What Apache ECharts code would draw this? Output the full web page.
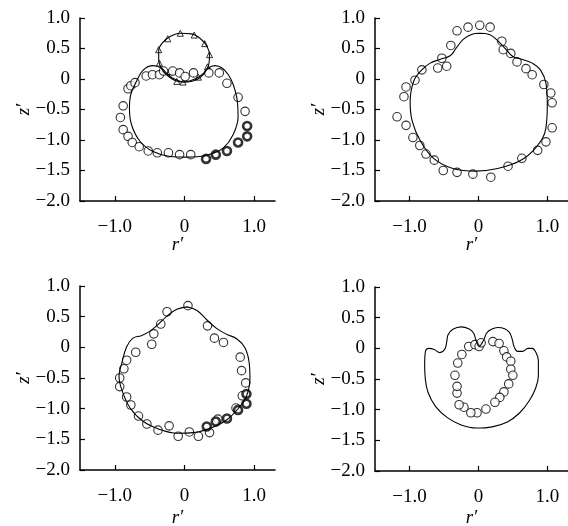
<!DOCTYPE html>
<html>
<head>
<meta charset="utf-8">
<script src="https://cdn.jsdelivr.net/npm/echarts@6/dist/echarts.min.js"></script>
<style>
  html, body { margin: 0; padding: 0; background: #fff; }
  #chart { width: 568px; height: 526px; }
</style>
</head>
<body>
<div id="chart"></div>
<script>
// tick labels
const xTicks = [-1.0, 0, 1.0];
const yTicks = [-2.0, -1.5, -1.0, -0.5, 0, 0.5, 1.0];

// panel a (top left)
const aCurve = [[0.0,-0.05],[-0.06,-0.04],[-0.18,0.02],[-0.26,0.10],[-0.33,0.18],[-0.45,0.22],[-0.59,0.15],[-0.69,-0.04],[-0.77,-0.25],[-0.79,-0.48],[-0.76,-0.75],[-0.64,-1.02],[-0.45,-1.19],[-0.21,-1.27],[0.03,-1.28],[0.22,-1.27],[0.40,-1.22],[0.56,-1.13],[0.70,-0.91],[0.77,-0.62],[0.76,-0.37],[0.70,-0.09],[0.63,0.07],[0.54,0.18],[0.44,0.22],[0.34,0.18],[0.27,0.07],[0.18,-0.01],[0.05,-0.05],[0.0,-0.05]];
const aDrop = [[0,-0.05],[-0.13,-0.03],[-0.24,0.05],[-0.33,0.17],[-0.37,0.32],[-0.37,0.47],[-0.31,0.60],[-0.20,0.70],[-0.06,0.75],[0.10,0.74],[0.23,0.66],[0.32,0.54],[0.36,0.40],[0.35,0.24],[0.28,0.10],[0.15,0.0],[0,-0.05]];
const aTriangles = [[-0.36,0.26],[-0.37,0.48],[-0.24,0.66],[-0.06,0.75],[0.14,0.72],[0.29,0.58],[0.36,0.40],[0.33,0.20],[0.20,0.03],[-0.02,-0.05],[-0.11,-0.04],[-0.21,0.12]];
const aCircles = [[-0.81,-0.16],[-0.77,-0.11],[-0.71,-0.06],[-0.55,0.05],[-0.46,0.07],[-0.36,0.07],[-0.30,0.13],[-0.17,0.13],[-0.07,0.10],[0.01,0.04],[0.13,0.10],[0.35,0.10],[0.50,0.10],[0.61,-0.07],[0.77,-0.30],[0.87,-0.53],[-0.88,-0.44],[-0.92,-0.63],[-0.88,-0.83],[-0.81,-0.94],[-0.75,-1.04],[-0.65,-1.11],[-0.52,-1.18],[-0.39,-1.21],[-0.23,-1.21],[-0.07,-1.24],[0.09,-1.24]];
const aBold = [[0.31,-1.31],[0.45,-1.24],[0.61,-1.18],[0.77,-1.04],[0.90,-0.94],[0.90,-0.77]];

// panel b (top right)
const bCurve = [[0.02,0.75],[0.16,0.73],[0.28,0.63],[0.38,0.51],[0.50,0.37],[0.64,0.32],[0.78,0.26],[0.90,0.15],[0.98,-0.07],[1.0,-0.40],[0.98,-0.80],[0.83,-1.13],[0.59,-1.35],[0.26,-1.47],[-0.03,-1.51],[-0.36,-1.47],[-0.65,-1.30],[-0.84,-1.02],[-0.96,-0.69],[-0.99,-0.38],[-0.94,-0.04],[-0.82,0.15],[-0.70,0.26],[-0.56,0.32],[-0.41,0.38],[-0.32,0.51],[-0.22,0.65],[-0.10,0.73],[0.02,0.75]];
const bCircles = [[-0.31,0.79],[-0.15,0.85],[0.02,0.88],[0.17,0.85],[-0.40,0.55],[-0.53,0.34],[-0.46,0.21],[-0.59,0.18],[-0.82,0.15],[-0.92,-0.02],[-1.05,-0.13],[-1.08,-0.29],[-1.18,-0.62],[-1.05,-0.76],[-0.95,-0.96],[-0.85,-1.09],[-0.76,-1.23],[-0.64,-1.33],[-0.51,-1.50],[-0.31,-1.53],[-0.08,-1.56],[0.18,-1.61],[0.43,-1.43],[0.63,-1.30],[0.86,-1.17],[0.98,-1.03],[1.07,-0.80],[1.07,-0.39],[1.05,-0.23],[0.95,-0.09],[0.78,0.07],[0.69,0.17],[0.56,0.28],[0.47,0.42],[0.36,0.48],[0.34,0.62]];

// panel c (bottom left)
const cCurve = [[0.04,0.66],[0.18,0.60],[0.32,0.45],[0.46,0.31],[0.61,0.21],[0.75,0.14],[0.87,-0.01],[0.93,-0.26],[0.94,-0.52],[0.89,-0.80],[0.80,-0.96],[0.61,-1.18],[0.37,-1.32],[0.13,-1.39],[-0.11,-1.40],[-0.35,-1.34],[-0.59,-1.21],[-0.78,-0.99],[-0.90,-0.69],[-0.94,-0.47],[-0.90,-0.26],[-0.83,0.01],[-0.74,0.15],[-0.62,0.19],[-0.50,0.26],[-0.38,0.37],[-0.26,0.50],[-0.11,0.62],[0.04,0.66]];
const cCircles = [[0.05,0.68],[-0.25,0.58],[-0.34,0.38],[-0.44,0.22],[-0.47,0.05],[-0.70,-0.08],[-0.83,-0.21],[-0.87,-0.35],[-0.93,-0.50],[-0.93,-0.64],[-0.83,-0.81],[-0.77,-0.94],[-0.66,-1.12],[-0.54,-1.25],[-0.38,-1.35],[-0.22,-1.28],[-0.09,-1.45],[0.07,-1.38],[0.20,-1.45],[0.36,-1.39],[0.33,0.35],[0.43,0.15],[0.56,0.08],[0.80,-0.16],[0.82,-0.38],[0.88,-0.58],[0.74,-0.99],[0.83,-0.79],[0.48,-1.17]];
const cBold = [[0.32,-1.29],[0.45,-1.21],[0.61,-1.16],[0.77,-1.02],[0.89,-0.92],[0.89,-0.76]];

// panel d (bottom right)
const dCurve = [[0.02,0.03],[0.08,0.14],[0.12,0.25],[0.19,0.31],[0.28,0.34],[0.38,0.32],[0.45,0.26],[0.49,0.15],[0.52,0.02],[0.57,-0.05],[0.64,-0.05],[0.72,0.0],[0.78,0.0],[0.84,-0.08],[0.87,-0.20],[0.87,-0.45],[0.83,-0.65],[0.74,-0.85],[0.60,-1.05],[0.42,-1.20],[0.20,-1.28],[-0.03,-1.30],[-0.25,-1.25],[-0.45,-1.13],[-0.62,-0.95],[-0.73,-0.72],[-0.77,-0.50],[-0.78,-0.25],[-0.77,-0.06],[-0.72,0.0],[-0.64,-0.02],[-0.56,-0.07],[-0.49,-0.02],[-0.46,0.10],[-0.44,0.22],[-0.37,0.31],[-0.25,0.35],[-0.14,0.32],[-0.07,0.25],[-0.03,0.12],[0.02,0.03]];
const dCircles = [[0.21,0.11],[0.30,0.08],[0.37,-0.04],[0.41,-0.14],[0.47,-0.21],[0.47,-0.34],[0.50,-0.44],[0.44,-0.58],[0.37,-0.71],[0.31,-0.80],[0.24,-0.88],[0.11,-0.99],[-0.02,-1.05],[-0.11,-1.05],[-0.21,-0.96],[-0.28,-0.92],[-0.31,-0.73],[-0.31,-0.62],[-0.34,-0.44],[-0.30,-0.24],[-0.24,-0.10],[-0.14,0.03],[-0.05,0.06],[0.01,0.03],[0.04,0.09]];

const FONT = 'Liberation Serif';

function tickText(v) {
  if (Math.abs(v) < 1e-9) return '0';
  return (v < 0 ? '\u2212' : '') + Math.abs(v).toFixed(1);
}

function makeX(i, nameGap) {
  return {
    gridIndex: i, type: 'value', min: -1.5, max: 1.3,
    axisLine: { onZero: false, lineStyle: { color: '#000', width: 1.5 } },
    axisTick: { inside: true, length: 5, customValues: xTicks, lineStyle: { color: '#000', width: 1.2 } },
    axisLabel: { customValues: xTicks, formatter: tickText, color: '#000', fontFamily: FONT, fontSize: 19, margin: 17 },
    splitLine: { show: false },
    name: 'r\u2032', nameLocation: 'middle', nameGap: nameGap, nameMoveOverlap: false,
    nameTextStyle: { color: '#000', fontFamily: FONT, fontStyle: 'italic', fontSize: 19 }
  };
}

function makeY(i) {
  return {
    gridIndex: i, type: 'value', min: yTicks[0], max: yTicks[yTicks.length - 1], interval: 0.5,
    axisLine: { onZero: false, lineStyle: { color: '#000', width: 1.5 } },
    axisTick: { inside: true, length: 5, lineStyle: { color: '#000', width: 1.2 } },
    axisLabel: { formatter: tickText, color: '#000', fontFamily: FONT, fontSize: 19, margin: 10 },
    splitLine: { show: false },
    name: 'z\u2032', nameLocation: 'middle', nameGap: 47, nameRotate: 90, nameMoveOverlap: false,
    nameTextStyle: { color: '#000', fontFamily: FONT, fontStyle: 'italic', fontSize: 19 }
  };
}

function curve(i, data) {
  return {
    type: 'line', xAxisIndex: i, yAxisIndex: i, data: data,
    showSymbol: false, smooth: 0.4, silent: true,
    lineStyle: { color: '#000', width: 1.1 }
  };
}

function dots(i, data, bold) {
  return {
    type: 'scatter', xAxisIndex: i, yAxisIndex: i, data: data,
    symbol: 'circle', symbolSize: bold ? 8 : 8.5, silent: true,
    itemStyle: { color: '#fff', borderColor: '#000', borderWidth: bold ? 2.6 : 1.1 }
  };
}

const chart = echarts.init(document.getElementById('chart'), null, { renderer: 'canvas' });

chart.setOption({
  animation: false,
  backgroundColor: '#fff',
  grid: [
    { left: 80, top: 18, width: 195, height: 183, containLabel: false, outerBoundsMode: 'none' },
    { left: 375, top: 18, width: 193, height: 183, containLabel: false, outerBoundsMode: 'none' },
    { left: 80, top: 286, width: 195, height: 184, containLabel: false, outerBoundsMode: 'none' },
    { left: 375, top: 287, width: 193, height: 184, containLabel: false, outerBoundsMode: 'none' }
  ],
  xAxis: [makeX(0, 34), makeX(1, 34), makeX(2, 38), makeX(3, 37)],
  yAxis: [makeY(0), makeY(1), makeY(2), makeY(3)],
  series: [
    curve(0, aCurve),
    curve(0, aDrop),
    {
      type: 'scatter', xAxisIndex: 0, yAxisIndex: 0, data: aTriangles,
      symbol: 'triangle', symbolSize: 6, silent: true,
      itemStyle: { color: '#fff', borderColor: '#000', borderWidth: 1 }
    },
    dots(0, aCircles, false),
    dots(0, aBold, true),
    curve(1, bCurve),
    dots(1, bCircles, false),
    curve(2, cCurve),
    dots(2, cCircles, false),
    dots(2, cBold, true),
    curve(3, dCurve),
    dots(3, dCircles, false)
  ]
});
</script>
</body>
</html>
